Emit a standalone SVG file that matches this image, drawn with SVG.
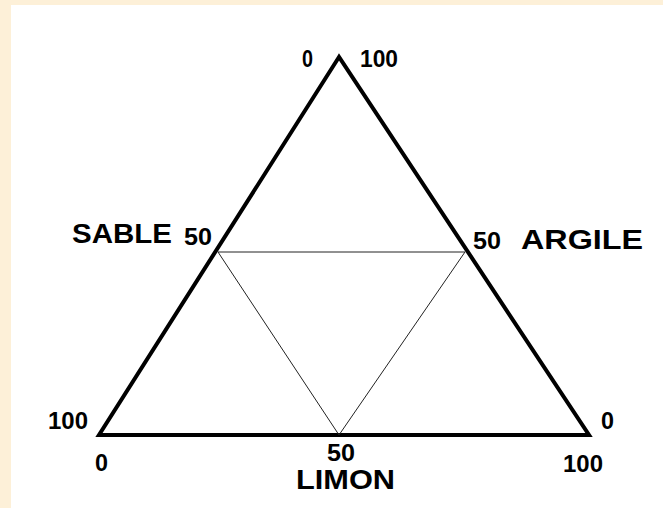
<svg xmlns="http://www.w3.org/2000/svg" width="663" height="508" viewBox="0 0 663 508">
  <style>
    .num { font-family: "Liberation Sans", Arial, sans-serif; font-weight: bold; font-size: 23px; fill: #000; }
    .lbl { font-family: "Liberation Sans", Arial, sans-serif; font-weight: bold; font-size: 28px; fill: #000; }
    .outer { fill: none; stroke: #000; stroke-width: 4; stroke-linejoin: miter; }
    .inner { fill: none; stroke: #222; stroke-width: 1; }
  </style>
  <rect x="0" y="0" width="663" height="508" fill="#fdf0d8"/>
  <rect x="11" y="5" width="652" height="503" fill="#ffffff"/>
  <g id="connectors">
    <polygon class="outer" points="339,57 99,435 589,435"/>
    <polyline class="inner" points="218,252 465,252 339,435 218,252"/>
  </g>
  <g id="apex">
    <text class="num" x="302" y="67" textLength="11" lengthAdjust="spacingAndGlyphs">0</text>
    <text class="num" x="360" y="67" textLength="38" lengthAdjust="spacingAndGlyphs">100</text>
  </g>
  <g id="sable">
    <text class="lbl" x="72" y="243" textLength="100" lengthAdjust="spacingAndGlyphs">SABLE</text>
    <text class="num" x="184" y="245" textLength="28" lengthAdjust="spacingAndGlyphs">50</text>
  </g>
  <g id="argile">
    <text class="num" x="473" y="249" textLength="28" lengthAdjust="spacingAndGlyphs">50</text>
    <text class="lbl" x="521" y="249" textLength="122" lengthAdjust="spacingAndGlyphs">ARGILE</text>
  </g>
  <g id="bottom-left">
    <text class="num" x="48" y="429" textLength="40" lengthAdjust="spacingAndGlyphs">100</text>
    <text class="num" x="95" y="471" textLength="13" lengthAdjust="spacingAndGlyphs">0</text>
  </g>
  <g id="bottom-right">
    <text class="num" x="601" y="429" textLength="13" lengthAdjust="spacingAndGlyphs">0</text>
    <text class="num" x="563" y="472" textLength="40" lengthAdjust="spacingAndGlyphs">100</text>
  </g>
  <g id="limon">
    <text class="num" x="327" y="461" textLength="28" lengthAdjust="spacingAndGlyphs">50</text>
    <text class="lbl" x="296" y="489" textLength="99" lengthAdjust="spacingAndGlyphs">LIMON</text>
  </g>
</svg>
